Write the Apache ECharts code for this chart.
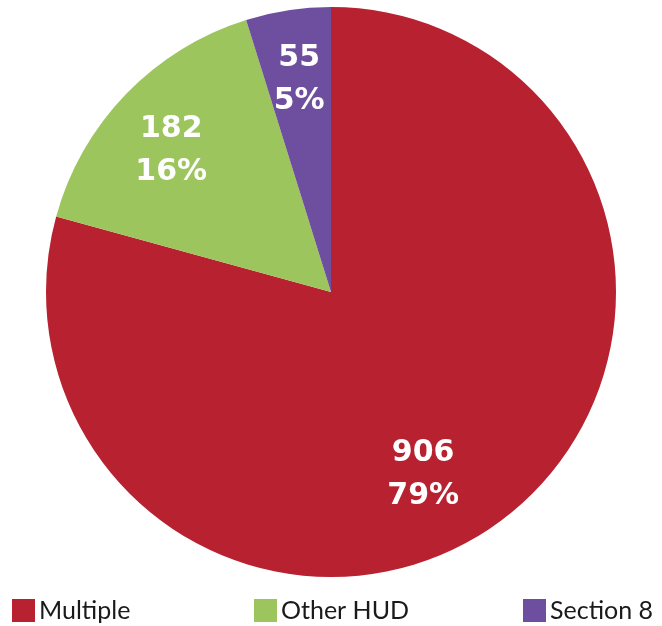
<!DOCTYPE html>
<html>
<head>
<meta charset="utf-8">
<script src="https://cdn.jsdelivr.net/npm/echarts@6/dist/echarts.min.js"></script>
<style>
html,body{margin:0;padding:0;background:#fff;}
#chart{width:662px;height:626px;}
</style>
</head>
<body>
<div id="chart"></div>
<script>
const categories = ['Multiple', 'Other HUD', 'Section 8'];
const values = [906, 182, 55];
const colors = ['#B8212F', '#9DC55E', '#6E4E9E'];
const labelOffsets = [[-40, 9], [-3, 10], [1, 3]];

const chart = echarts.init(document.getElementById('chart'));
const mainData = categories.map((c, i) => ({ name: c, value: values[i], itemStyle: { color: colors[i] } }));
const labelData = categories.map((c, i) => ({
  name: c, value: values[i],
  label: { offset: labelOffsets[i] }
}));

const legendLefts = [12, 254, 523];
chart.setOption({
  animation: false,
  legend: categories.map((c, i) => ({
    data: [c],
    left: legendLefts[i],
    top: 598,
    padding: 0,
    itemWidth: 23,
    itemHeight: 23,
    icon: 'rect',
    selectedMode: false,
    textStyle: { fontFamily: 'Lato', fontSize: 25, color: '#1a1a1a', padding: [0, 0, 0, -1] }
  })),
  series: [
    {
      type: 'pie',
      center: [331, 292],
      radius: [0, 285],
      startAngle: 90,
      clockwise: true,
      label: { show: false },
      labelLine: { show: false },
      emphasis: { disabled: true },
      data: mainData
    },
    {
      type: 'pie',
      center: [331, 292],
      radius: [0, 430],
      startAngle: 90,
      clockwise: true,
      silent: true,
      legendHoverLink: false,
      itemStyle: { color: 'rgba(0,0,0,0)' },
      label: {
        show: true,
        position: 'inside',
        formatter: '{c}\n{d}%',
        color: '#ffffff',
        fontFamily: 'DejaVu Sans',
        fontWeight: 'bold',
        fontSize: 30,
        lineHeight: 43
      },
      percentPrecision: 0,
      labelLine: { show: false },
      emphasis: { disabled: true },
      data: labelData
    }
  ]
});
</script>
</body>
</html>
